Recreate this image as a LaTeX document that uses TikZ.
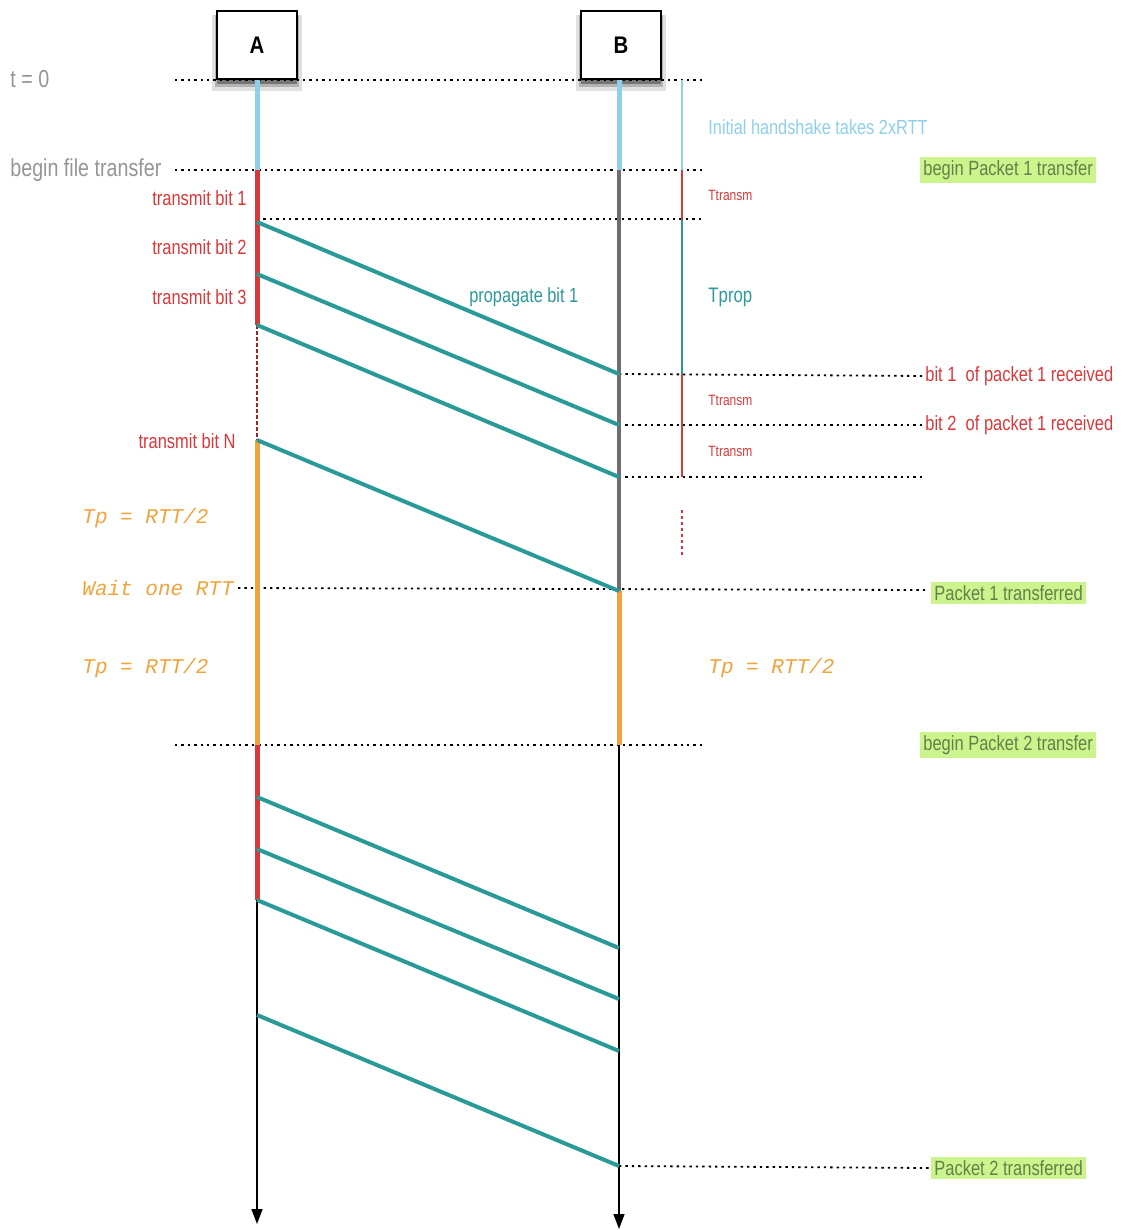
\documentclass[tikz,border=0pt]{standalone}
\usepackage{fontspec}
\setmainfont{Liberation Sans}[FakeStretch=0.8]
\newfontfamily\monoit{Liberation Mono}[UprightFont=* Italic]
\newfontfamily\hostfont{Liberation Sans}[FakeStretch=0.85]
\usetikzlibrary{shadows,arrows.meta}
\definecolor{hsblue}{HTML}{8ECFEA}
\definecolor{txred}{HTML}{D8383A}
\definecolor{sigteal}{HTML}{2A9A98}
\definecolor{orng}{HTML}{F0A33A}
\definecolor{lime}{HTML}{CBF58C}
\definecolor{limetext}{HTML}{667F4A}
\definecolor{graytext}{HTML}{959595}
\definecolor{bgray}{HTML}{6E6E6E}
\tikzset{
  host/.style={draw=black, line width=1.3pt, fill=white, minimum width=40pt, minimum height=34pt,
    font=\hostfont\bfseries\fontsize{12}{14}\selectfont,
    general shadow={fill=black, opacity=0.12, shadow xshift=0pt, shadow yshift=-3.5pt, shadow scale=1.12},
    general shadow={fill=black, opacity=0.2, shadow xshift=0pt, shadow yshift=-3pt, shadow scale=1.06},
    general shadow={fill=black, opacity=0.35, shadow xshift=0pt, shadow yshift=-2.5pt, shadow scale=1.01}},
  seg/.style={line width=2.5pt},
  dotline/.style={black, line width=0.9pt, dash pattern=on 1.2pt off 2pt},
  sig/.style={sigteal, line width=2pt},
  rline/.style={line width=0.6pt},
  lbl/.style={inner sep=0pt, font=\fontsize{10.2}{12}\selectfont},
  glbl/.style={lbl, text=graytext, font=\fontsize{12.3}{14}\selectfont},
  redlbl/.style={lbl, text=txred, font=\fontsize{10.3}{12}\selectfont},
  tiny/.style={inner sep=0pt, text=txred, font=\fontsize{7.5}{9}\selectfont},
  monolbl/.style={inner sep=0pt, text=orng, font=\monoit\fontsize{10.5}{12}\selectfont},
  greenlbl/.style={lbl, fill=lime, text=limetext, inner sep=1.5pt, font=\fontsize{10.3}{12}\selectfont},
  life/.style={black, line width=0.7pt, -{Triangle[width=5.5pt,length=7.5pt]}}
}
\begin{document}
\begin{tikzpicture}[x=0.5pt,y=-0.5pt]
\useasboundingbox (0,0) rectangle (1124,1230);
% hosts
\node[host] (A) at (257,45) {A};
\node[host] (B) at (621,45) {B};
% key coordinates
\coordinate (L0) at (175,80);  \coordinate (R0) at (703,80);
\coordinate (L1) at (175,170); \coordinate (R1) at (703,170);
\coordinate (L2) at (257,219); \coordinate (R2) at (703,219);
\coordinate (L7) at (175,745); \coordinate (R7) at (703,745);
% lifeline A points
\coordinate (a0) at (257,80);
\coordinate (a1) at (257,170);
\coordinate (a2) at (257,222);
\coordinate (a3) at (257,274);
\coordinate (a4) at (257,325);
\coordinate (a5) at (257,440);
\coordinate (a6) at (257,745);
\coordinate (a7) at (257,797);
\coordinate (a8) at (257,849);
\coordinate (a9) at (257,900);
\coordinate (a10) at (257,1015);
\coordinate (aend) at (257,1224);
% lifeline B points
\coordinate (b0) at (619,80);
\coordinate (b1) at (619,170);
\coordinate (b2) at (619,374);
\coordinate (b3) at (619,425);
\coordinate (b4) at (619,477);
\coordinate (b5) at (619,591);
\coordinate (b6) at (619,745);
\coordinate (b7) at (619,948);
\coordinate (b8) at (619,999);
\coordinate (b9) at (619,1051);
\coordinate (b10) at (619,1166);
\coordinate (bend) at (619,1229);
% right measuring line
\coordinate (r0) at (682,80);
\coordinate (r1) at (682,170);
\coordinate (r2) at (682,220);
\coordinate (r3) at (682,374);
\coordinate (r4) at (682,477);
\coordinate (r5) at (682,510);
\coordinate (r6) at (682,556);
\coordinate (e4) at (925,477);

% labels
\node[glbl, anchor=west] (t0) at (10,79) {t = 0};
\node[glbl, anchor=west] (bft) at (10,170) {begin file transfer};
\node[redlbl, anchor=east] (tb1) at (247,198) {transmit bit 1};
\node[redlbl, anchor=east] (tb2) at (247,247) {transmit bit 2};
\node[redlbl, anchor=east] (tb3) at (247,297) {transmit bit 3};
\node[redlbl, anchor=east] (tbn) at (236,441) {transmit bit N};
\node[monolbl, anchor=west] (tp1) at (82,518) {Tp = RTT/2};
\node[monolbl, anchor=west] (wait) at (82,588) {Wait one RTT};
\node[monolbl, anchor=west] (tp2) at (82,668) {Tp = RTT/2};
\node[monolbl, anchor=west] (tp3) at (708,668) {Tp = RTT/2};
\node[lbl, text=hsblue, anchor=west] (hs) at (708,127) {Initial handshake takes 2xRTT};
\node[greenlbl, anchor=west] (bp1) at (920,170) {begin Packet 1 transfer};
\node[tiny, anchor=west] (tt1) at (708,195) {Ttransm};
\node[tiny, anchor=west] (tt2) at (708,400) {Ttransm};
\node[tiny, anchor=west] (tt3) at (708,451) {Ttransm};
\node[lbl, text=sigteal, anchor=west] (prop) at (469,297) {propagate bit 1};
\node[lbl, text=sigteal, anchor=west, font=\fontsize{10.5}{12}\selectfont] (tprop) at (708,297) {Tprop};
\node[redlbl, anchor=west] (rx1) at (925,376) {bit 1\ \ of packet 1 received};
\node[redlbl, anchor=west] (rx2) at (925,425) {bit 2\ \ of packet 1 received};
\node[greenlbl, anchor=west] (p1t) at (931,593) {Packet 1 transferred};
\node[greenlbl, anchor=west] (bp2) at (920,745) {begin Packet 2 transfer};
\node[greenlbl, anchor=west] (p2t) at (931,1168) {Packet 2 transferred};

% dotted guide lines
\draw[dotline] (L0) -- (R0);
\draw[dotline] (L1) -- (R1);
\draw[dotline] (L2) -- (R2);
\draw[dotline] (b2) -- (rx1.west);
\draw[dotline] (b3) -- (rx2.west);
\draw[dotline] (b4) -- (e4);
\draw[dotline] (wait.east) ++(4,0) -- (925,590);
\draw[dotline] (L7) -- (R7);
\draw[dotline] (b10) -- (p2t.west);

% lifeline A
\draw[seg, hsblue] (A.south) -- (a1);
\draw[seg, txred] (a1) -- (a4);
\draw[txred!70!black, line width=0.8pt, dash pattern=on 2pt off 1pt] (a4) -- (a5);
\draw[seg, orng] (a5) -- (a6);
\draw[seg, txred] (a6) -- (a9);
\draw[life] (a9) -- (aend);

% lifeline B
\draw[seg, hsblue] (b0) -- (b1);
\draw[bgray, line width=2pt] (b1) -- (b5);
\draw[life] (b5) -- (bend);
\draw[seg, orng] (b5) -- (b6);

% right measuring line
\draw[rline, hsblue] (r0) -- (r1);
\draw[rline, txred] (r1) -- (r2);
\draw[rline, sigteal] (r2) -- (r3);
\draw[rline, txred] (r3) -- (r4);
\draw[rline, txred, dash pattern=on 1.5pt off 1.5pt] (r5) -- (r6);

% signals, packet 1
\draw[sig] (a2) -- (b2);
\draw[sig] (a3) -- (b3);
\draw[sig] (a4) -- (b4);
\draw[sig] (a5) -- (b5);
% signals, packet 2
\draw[sig] (a7) -- (b7);
\draw[sig] (a8) -- (b8);
\draw[sig] (a9) -- (b9);
\draw[sig] (a10) -- (b10);
\end{tikzpicture}
\end{document}
